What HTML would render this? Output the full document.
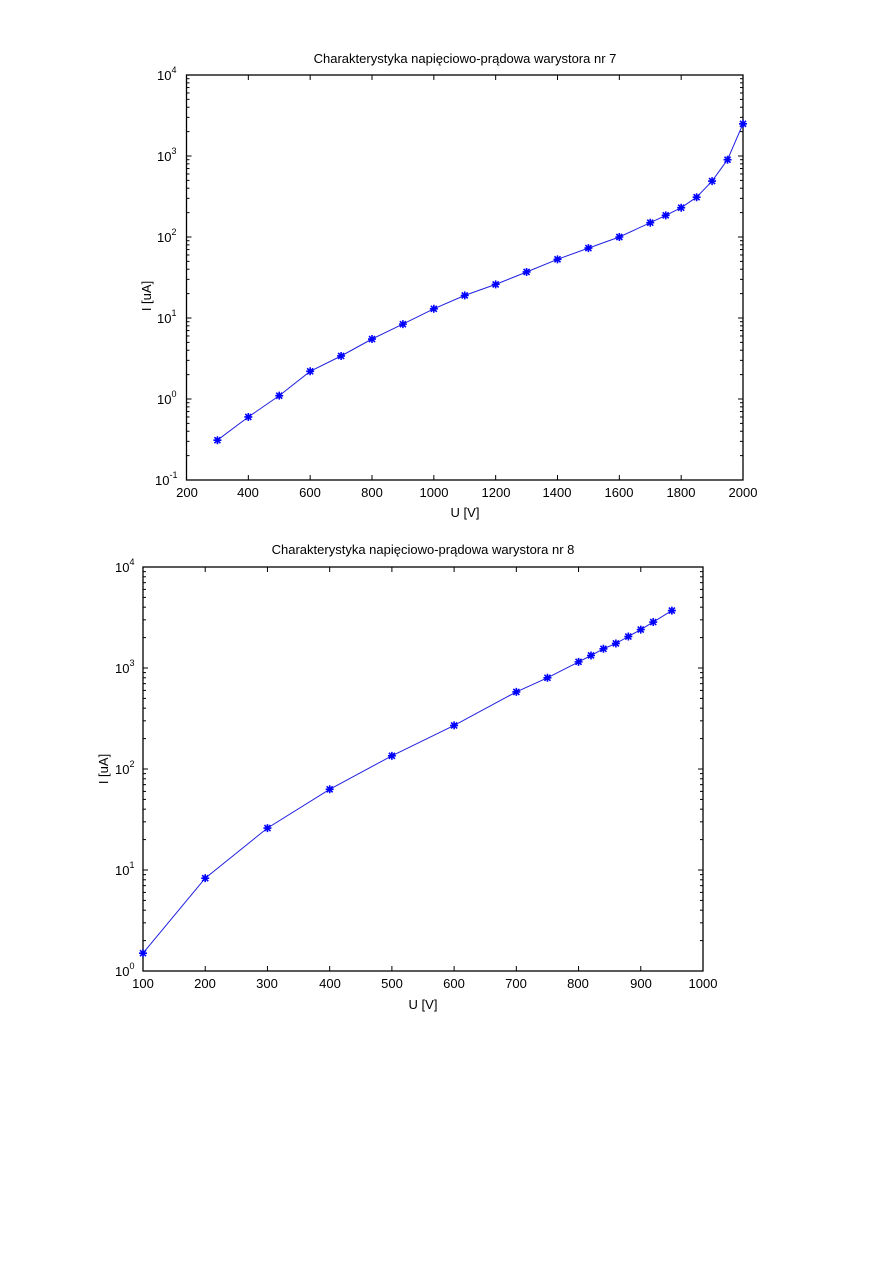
<!DOCTYPE html>
<html><head><meta charset="utf-8"><style>
body{margin:0;background:#fff;}
svg{display:block;font-family:"Liberation Sans",sans-serif;}
text{fill:#000;}
</style></head><body>
<svg id="s" width="893" height="1263" xmlns="http://www.w3.org/2000/svg">
<rect width="893" height="1263" fill="#fff"/>
<!-- Chart 1 text -->
<text x="465" y="63" font-size="13" text-anchor="middle">Charakterystyka napięciowo-prądowa warystora nr 7</text>
<text x="465" y="517" font-size="13" text-anchor="middle">U [V]</text>
<text transform="translate(151,296) rotate(-90)" font-size="13" text-anchor="middle">I [uA]</text>
<g font-size="13" text-anchor="middle">
<text x="187" y="497">200</text><text x="248" y="497">400</text><text x="310" y="497">600</text><text x="372" y="497">800</text><text x="434" y="497">1000</text><text x="496" y="497">1200</text><text x="557" y="497">1400</text><text x="619" y="497">1600</text><text x="681" y="497">1800</text><text x="743" y="497">2000</text>
</g>
<g font-size="13">
<text x="157" y="80">10<tspan font-size="9" dy="-7">4</tspan></text>
<text x="157" y="161">10<tspan font-size="9" dy="-7">3</tspan></text>
<text x="157" y="242">10<tspan font-size="9" dy="-7">2</tspan></text>
<text x="157" y="323">10<tspan font-size="9" dy="-7">1</tspan></text>
<text x="157" y="404">10<tspan font-size="9" dy="-7">0</tspan></text>
<text x="155" y="485">10<tspan font-size="9" dy="-7">-1</tspan></text>
</g>
<!-- Chart 2 text -->
<text x="423" y="554" font-size="13" text-anchor="middle">Charakterystyka napięciowo-prądowa warystora nr 8</text>
<text x="423" y="1009" font-size="13" text-anchor="middle">U [V]</text>
<text transform="translate(108,769) rotate(-90)" font-size="13" text-anchor="middle">I [uA]</text>
<g font-size="13" text-anchor="middle">
<text x="143" y="988">100</text><text x="205" y="988">200</text><text x="267" y="988">300</text><text x="330" y="988">400</text><text x="392" y="988">500</text><text x="454" y="988">600</text><text x="516" y="988">700</text><text x="578" y="988">800</text><text x="641" y="988">900</text><text x="703" y="988">1000</text>
</g>
<g font-size="13">
<text x="115" y="572">10<tspan font-size="9" dy="-7">4</tspan></text>
<text x="115" y="673">10<tspan font-size="9" dy="-7">3</tspan></text>
<text x="115" y="774">10<tspan font-size="9" dy="-7">2</tspan></text>
<text x="115" y="875">10<tspan font-size="9" dy="-7">1</tspan></text>
<text x="115" y="976">10<tspan font-size="9" dy="-7">0</tspan></text>
</g>
<g id="g"></g>
</svg>
<script>
var NS="http://www.w3.org/2000/svg",G=document.getElementById("g");
function el(n,a){var e=document.createElementNS(NS,n);for(var k in a)e.setAttribute(k,a[k]);G.appendChild(e);return e;}
function chart(c){
 var X=function(v){return c.l+(v-c.x0)/(c.x1-c.x0)*(c.r-c.l);};
 var Y=function(v){return c.b-(Math.log10(v)-c.y0)/(c.y1-c.y0)*(c.b-c.t);};
 el("rect",{x:c.l,y:c.t,width:c.r-c.l,height:c.b-c.t,fill:"none",stroke:"#000","stroke-width":1.3});
 for(var v=c.x0;v<=c.x1+1e-6;v+=c.xs){var x=X(v);
  el("line",{x1:x,y1:c.b,x2:x,y2:c.b-5,stroke:"#000"});el("line",{x1:x,y1:c.t,x2:x,y2:c.t+5,stroke:"#000"});}
 for(var d=c.y0;d<=c.y1;d++){for(var m=1;m<10;m++){if(d==c.y1&&m>1)break;var y=Y(m*Math.pow(10,d));var L=m==1?5:3;
  el("line",{x1:c.l,y1:y,x2:c.l+L,y2:y,stroke:"#000"});el("line",{x1:c.r,y1:y,x2:c.r-L,y2:y,stroke:"#000"});}}
 var p=c.d.map(function(q){return X(q[0]).toFixed(1)+","+Y(q[1]).toFixed(1);}).join(" ");
 el("polyline",{points:p,fill:"none",stroke:"#2020e0","stroke-width":1});
 c.d.forEach(function(q){var x=X(q[0]),y=Y(q[1]),s=4;
  el("path",{d:"M"+(x-s)+" "+y+"H"+(x+s)+"M"+x+" "+(y-s)+"V"+(y+s)+"M"+(x-3)+" "+(y-3)+"L"+(x+3)+" "+(y+3)+"M"+(x-3)+" "+(y+3)+"L"+(x+3)+" "+(y-3),stroke:"#0000ff","stroke-width":1.6});});
}
chart({l:186.5,r:743,t:75,b:480,x0:200,x1:2000,xs:200,y0:-1,y1:4,
 d:[[300,0.31],[400,0.6],[500,1.1],[600,2.2],[700,3.4],[800,5.5],[900,8.4],[1000,13],[1100,19],[1200,26],[1300,37],[1400,53],[1500,73],[1600,100],[1700,150],[1750,185],[1800,230],[1850,310],[1900,490],[1950,900],[2000,2500]]});
chart({l:143,r:703,t:567,b:971,x0:100,x1:1000,xs:100,y0:0,y1:4,
 d:[[100,1.5],[200,8.3],[300,26],[400,63],[500,135],[600,270],[700,580],[750,800],[800,1150],[820,1330],[840,1550],[860,1750],[880,2050],[900,2400],[920,2850],[950,3700]]});
</script>
</body></html>
